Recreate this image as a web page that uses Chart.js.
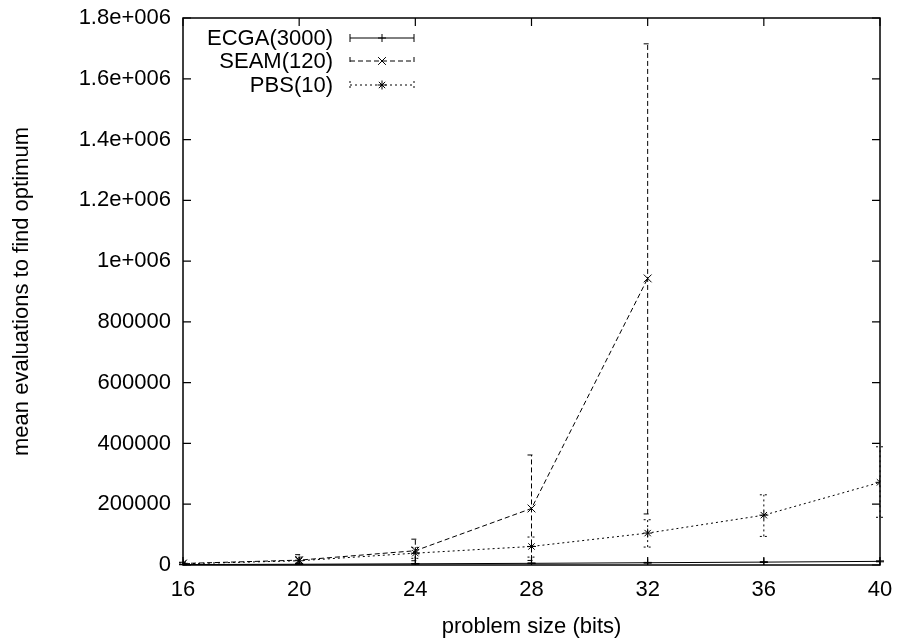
<!DOCTYPE html>
<html>
<head>
<meta charset="utf-8">
<script src="https://cdn.jsdelivr.net/npm/chart.js@4/dist/chart.umd.min.js"></script>
<style>
  html, body { margin: 0; padding: 0; background: #fff; }
  #grafico { display: block; }
</style>
</head>
<body>
<canvas id="grafico" width="899" height="638"></canvas>
<script>
// ── Datos ─────────────────────────────────────
const tamanos = [16, 20, 24, 28, 32, 36, 40]

const ecgaMedia = [1500, 2500, 4000, 5500, 7500, 9500, 12000]
const ecgaBajo  = [800, 1800, 3000, 4500, 6500, 8500, 10500]
const ecgaAlto  = [2200, 3200, 5000, 6500, 8500, 10500, 13500]

// SEAM sólo llega hasta 32 bits
const seamMedia = [5000, 16000, 47000, 186000, 943000]
const seamBajo  = [2000, 5000, 14000, 15000, 168000]
const seamAlto  = [9000, 34000, 85000, 362000, 1715000]

const pbsMedia = [4000, 14000, 39000, 61000, 105000, 164000, 272000]
const pbsBajo  = [2000, 6000, 22000, 26000, 59000, 94000, 157000]
const pbsAlto  = [7000, 26000, 58000, 92000, 149000, 231000, 389000]

const etiquetasY = ['0', '200000', '400000', '600000', '800000',
  '1e+006', '1.2e+006', '1.4e+006', '1.6e+006', '1.8e+006']
const etiquetasX = ['16', '20', '24', '28', '32', '36', '40']

const FUENTE = "'Liberation Sans', Arial, sans-serif"
const TAM = 22

const series = [
  { nombre: 'ECGA(3000)', media: ecgaMedia, bajo: ecgaBajo, alto: ecgaAlto, dash: [],     punto: 'cross',    radio: 4 },
  { nombre: 'SEAM(120)',  media: seamMedia, bajo: seamBajo, alto: seamAlto, dash: [5, 3], punto: 'crossRot', radio: 5.5 },
  { nombre: 'PBS(10)',    media: pbsMedia,  bajo: pbsBajo,  alto: pbsAlto,  dash: [2, 3], punto: 'star',     radio: 4.5 }
]

// ── Barras de error estilo gnuplot ────────────
const barrasError = {
  id: 'barrasError',
  afterDatasetsDraw(chart) {
    const { ctx, scales: { x, y } } = chart
    ctx.save()
    ctx.strokeStyle = '#000'
    ctx.lineWidth = 1
    series.forEach(s => {
      ctx.setLineDash(s.dash)
      s.media.forEach((_, i) => {
        const px = x.getPixelForValue(tamanos[i])
        const y1 = y.getPixelForValue(s.bajo[i])
        const y2 = y.getPixelForValue(s.alto[i])
        ctx.beginPath()
        ctx.moveTo(px, y1); ctx.lineTo(px, y2)
        ctx.moveTo(px - 4, y1); ctx.lineTo(px + 4, y1)
        ctx.moveTo(px - 4, y2); ctx.lineTo(px + 4, y2)
        ctx.stroke()
      })
    })
    ctx.restore()
  }
}

// ── Marco, marcas hacia adentro y leyenda ─────
const marco = {
  id: 'marco',
  afterDraw(chart) {
    const { ctx, chartArea: a, scales: { x, y } } = chart
    ctx.save()
    ctx.strokeStyle = '#000'
    ctx.lineWidth = 1.5
    ctx.setLineDash([])
    ctx.strokeRect(a.left, a.top, a.right - a.left, a.bottom - a.top)
    ctx.lineWidth = 1.2
    ctx.beginPath()
    y.ticks.forEach(t => {
      const py = y.getPixelForValue(t.value)
      ctx.moveTo(a.left, py); ctx.lineTo(a.left + 8, py)
      ctx.moveTo(a.right, py); ctx.lineTo(a.right - 8, py)
    })
    x.ticks.forEach(t => {
      const px = x.getPixelForValue(t.value)
      ctx.moveTo(px, a.bottom); ctx.lineTo(px, a.bottom - 8)
      ctx.moveTo(px, a.top); ctx.lineTo(px, a.top + 8)
    })
    ctx.stroke()

    // Leyenda dentro del gráfico
    ctx.font = `${TAM}px ${FUENTE}`
    ctx.fillStyle = '#000'
    ctx.textAlign = 'right'
    ctx.textBaseline = 'middle'
    const filas = [38, 61, 85]
    series.forEach((s, i) => {
      const fy = filas[i]
      ctx.fillText(s.nombre, 333, fy + 1)
      ctx.lineWidth = 1
      ctx.setLineDash(s.dash)
      ctx.beginPath()
      ctx.moveTo(350, fy); ctx.lineTo(414, fy)
      ctx.moveTo(350, fy - 4); ctx.lineTo(350, fy + 4)
      ctx.moveTo(414, fy - 4); ctx.lineTo(414, fy + 4)
      ctx.stroke()
      ctx.setLineDash([])
      Chart.helpers.drawPoint(ctx, { pointStyle: s.punto, radius: s.radio, borderWidth: 1, rotation: 0 }, 382, fy)
    })
    ctx.restore()
  }
}

const ctx = document.getElementById('grafico').getContext('2d')

new Chart(ctx, {
  type: 'line',
  data: {
    datasets: series.map(s => ({
      label: s.nombre,
      data: s.media.map((v, i) => ({ x: tamanos[i], y: v })),
      borderColor: '#000',
      backgroundColor: '#000',
      borderWidth: 1,
      borderDash: s.dash,
      pointStyle: s.punto,
      pointRadius: s.radio,
      pointBorderColor: '#000',
      pointBorderWidth: 1,
      fill: false,
      tension: 0
    }))
  },
  options: {
    responsive: false,
    animation: false,
    events: [],
    layout: { padding: { left: 0, right: 19, top: 18, bottom: 0 } },
    plugins: { legend: { display: false }, tooltip: { enabled: false } },
    scales: {
      x: {
        type: 'linear',
        min: 16, max: 40,
        border: { display: false },
        grid: { display: false, drawTicks: false },
        ticks: {
          stepSize: 4, padding: 12, color: '#000',
          font: { family: FUENTE, size: TAM },
          callback: (v) => etiquetasX[tamanos.indexOf(v)]
        },
        title: {
          display: true, text: 'problem size (bits)', color: '#000', padding: 0,
          font: { family: FUENTE, size: TAM, lineHeight: 1.0 }
        },
        afterFit: (s) => { s.height = 73; s.paddingLeft = 0; s.paddingRight = 0 }
      },
      y: {
        min: 0, max: 1800000,
        border: { display: false },
        grid: { display: false, drawTicks: false },
        ticks: {
          stepSize: 200000, padding: 12, color: '#000',
          font: { family: FUENTE, size: TAM },
          callback: (v) => etiquetasY[Math.round(v / 200000)]
        },
        title: {
          display: true, text: 'mean evaluations to find optimum', color: '#000', padding: 0,
          font: { family: FUENTE, size: TAM, lineHeight: 2.0 }
        },
        afterFit: (s) => { s.width = 183; s.paddingTop = 0; s.paddingBottom = 0 }
      }
    }
  },
  plugins: [barrasError, marco]
})
</script>
</body>
</html>
